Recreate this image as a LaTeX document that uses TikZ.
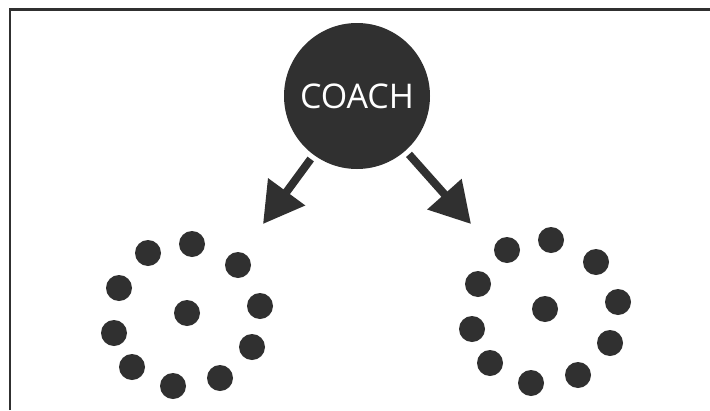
\documentclass[tikz,border=0pt]{standalone}
\usepackage{fontspec}
\setmainfont{Open Sans}
\usetikzlibrary{arrows.meta}
\definecolor{ink}{HTML}{303030}
\tikzset{
  coachnode/.style={circle, fill=ink, minimum size=146pt, inner sep=0pt,
    text=white, font=\fontsize{34}{34}\selectfont},
  dot/.style={circle, fill=ink, minimum size=26pt, inner sep=0pt},
  bigarrow/.style={draw=ink, line width=8pt, shorten <=5pt,
    -{Triangle[length=40pt, width=44pt, fill=ink]}},
  frameline/.style={draw=ink, line width=2.6pt}
}
\begin{document}
\begin{tikzpicture}[x=1pt, y=-1pt]
  \useasboundingbox (0,0) rectangle (710,410);
  \fill[white] (0,0) rectangle (710,410);
  % open frame: left and top edges only
  \draw[frameline] (10,410) -- (10,9.5) -- (710,9.5);
  % the coach
  \node[coachnode] (coach) at (357,96) {COACH};
  % arrow ends
  \coordinate (ltip) at (263,224);
  \coordinate (rtip) at (471,224);
  \draw[bigarrow] (coach) -- (ltip);
  \draw[bigarrow] (coach) -- (rtip);
  % left group of players
  \foreach \n/\x/\y in {1/148/253, 2/192/244, 3/238/265, 4/119/288,
      5/260/306, 6/187/313, 7/114/333, 8/252/347, 9/132/367,
      10/220/378, 11/173/386}
    \node[dot] (l\n) at (\x,\y) {};
  % right group of players
  \foreach \n/\x/\y in {1/507/250, 2/551/240, 3/596/262, 4/478/284,
      5/618/302, 6/545/309, 7/472/329, 8/610/343, 9/490/363,
      10/578/375, 11/531/383}
    \node[dot] (r\n) at (\x,\y) {};
\end{tikzpicture}
\end{document}
